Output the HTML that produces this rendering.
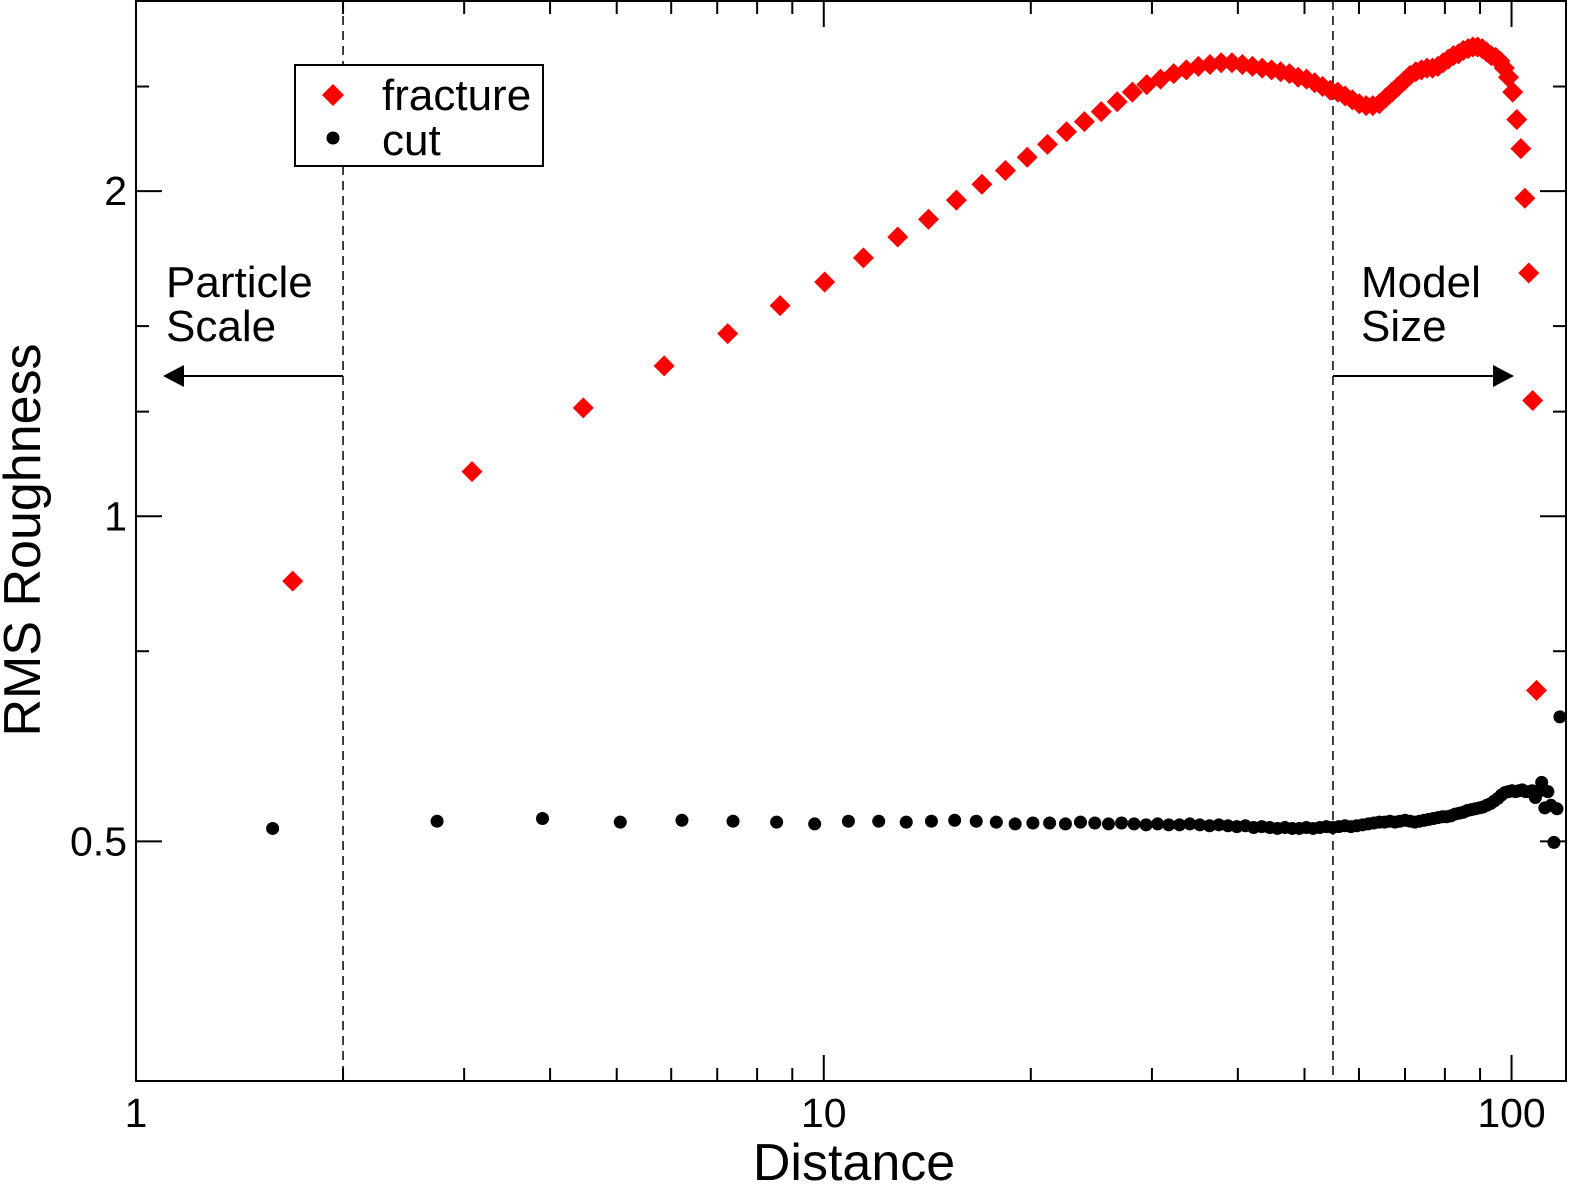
<!DOCTYPE html>
<html><head><meta charset="utf-8"><style>
html,body{margin:0;padding:0;background:#fff;overflow:hidden;width:1572px;height:1185px;}
svg{display:block;}
svg text{font-family:"Liberation Sans",sans-serif;fill:#000;}
</style></head><body>
<div style="position:relative;width:1572px;height:1185px;">
<svg id="chart" width="1572" height="1185" viewBox="0 0 1572 1185" xmlns="http://www.w3.org/2000/svg" style="position:absolute;left:0;top:0">
<rect x="0" y="0" width="1572" height="1185" fill="#fff"/>
<g id="marks"></g>
<g id="axes"></g>
</svg>
<svg style="position:absolute;left:0;top:0" width="1572" height="1185" xmlns="http://www.w3.org/2000/svg">
<text x="854" y="1180" font-size="52" text-anchor="middle">Distance</text>
<text transform="translate(40,540) rotate(-90)" font-size="52" text-anchor="middle">RMS Roughness</text>
<g>
<rect x="295" y="65" width="248" height="101" fill="#fff" stroke="#000" stroke-width="2"/>
<polygon points="333,84 344,95 333,106 322,95" fill="#ff0000"/>
<text x="382" y="110" font-size="44">fracture</text>
<circle cx="333" cy="138" r="6.5" fill="#000"/>
<text x="382" y="155" font-size="44">cut</text>
</g>
<g>
<text x="166" y="297" font-size="44">Particle</text>
<text x="166" y="341" font-size="44">Scale</text>
<line x1="343" y1="376" x2="180" y2="376" stroke="#000" stroke-width="2"/>
<polygon points="163,376 184,365 184,387" fill="#000"/>
</g>
<g>
<text x="1361" y="297" font-size="44">Model</text>
<text x="1361" y="341" font-size="44">Size</text>
<line x1="1333" y1="376" x2="1495" y2="376" stroke="#000" stroke-width="2"/>
<polygon points="1514,376 1493,365 1493,387" fill="#000"/>
</g>
</svg>
</div>
<script>
const fractureX=[1.69,3.08,4.47,5.86,7.25,8.64,10.03,11.42,12.81,14.20,15.59,16.98,18.37,19.76,21.15,22.54,23.93,25.32,26.71,28.10,29.49,30.88,32.27,33.66,35.05,36.44,37.83,39.22,40.61,42.00,43.39,44.78,46.17,47.56,48.95,50.34,51.73,53.12,54.51,55.90,57.29,58.68,60.07,61.46,62.85,64.24,65.63,67.02,68.41,69.80,71.19,72.58,73.97,75.36,76.75,78.14,79.53,80.92,82.31,83.70,85.09,86.48,87.87,89.26,90.65,92.04,93.43,94.82,96.21,97.60,98.99,100.38,101.77,103.16,104.55,105.94,107.33,108.72];
const fractureY=[0.871,1.10,1.26,1.378,1.476,1.567,1.648,1.735,1.814,1.884,1.962,2.03,2.09,2.15,2.21,2.27,2.32,2.37,2.42,2.47,2.51,2.54,2.57,2.59,2.61,2.62,2.63,2.63,2.62,2.61,2.60,2.59,2.58,2.57,2.55,2.54,2.52,2.50,2.48,2.47,2.45,2.43,2.41,2.40,2.40,2.41,2.44,2.47,2.50,2.53,2.56,2.58,2.59,2.60,2.60,2.61,2.63,2.65,2.67,2.68,2.70,2.71,2.72,2.72,2.71,2.69,2.67,2.66,2.64,2.60,2.55,2.47,2.33,2.19,1.97,1.68,1.28,0.69];
const cutX=[1.58,2.74,3.90,5.06,6.22,7.38,8.54,9.70,10.86,12.02,13.18,14.34,15.50,16.66,17.82,18.98,20.14,21.30,22.46,23.62,24.78,25.94,27.10,28.26,29.42,30.58,31.74,32.90,34.06,35.22,36.38,37.54,38.70,39.86,41.02,42.18,43.34,44.50,45.66,46.82,47.98,49.14,50.30,51.46,52.62,53.78,54.94,56.10,57.26,58.42,59.58,60.74,61.90,63.06,64.22,65.38,66.54,67.70,68.86,70.02,71.18,72.34,73.50,74.66,75.82,76.98,78.14,79.30,80.46,81.62,82.78,83.94,85.10,86.26,87.42,88.58,89.74,90.90,92.06,93.22,94.38,95.54,96.70,97.86,99.02,100.18,101.34,102.50,103.66,104.82,105.98,107.14,108.30,109.46,110.62,111.78,112.94,114.10,115.26,116.42,117.58];
const cutY=[0.514,0.522,0.525,0.521,0.523,0.522,0.521,0.519,0.522,0.522,0.521,0.522,0.523,0.522,0.521,0.519,0.520,0.520,0.519,0.521,0.520,0.519,0.520,0.519,0.518,0.519,0.518,0.518,0.519,0.518,0.517,0.518,0.517,0.516,0.517,0.515,0.516,0.515,0.514,0.515,0.514,0.514,0.515,0.514,0.515,0.516,0.515,0.516,0.517,0.516,0.517,0.518,0.519,0.520,0.521,0.521,0.522,0.521,0.522,0.523,0.522,0.521,0.522,0.523,0.524,0.525,0.526,0.527,0.527,0.528,0.530,0.531,0.532,0.534,0.535,0.536,0.537,0.538,0.540,0.542,0.545,0.548,0.552,0.555,0.556,0.557,0.556,0.557,0.558,0.556,0.556,0.557,0.549,0.556,0.567,0.537,0.556,0.540,0.499,0.536,0.652];
const xTickLabels=["1","10","100"];
const xTickValues=[1,10,100];
const yTickValues=[0.5,1,2];
const yTickLabels=["0.5","1","2"];
const yMinorValues=[0.75,1.25,1.5,2.5];
const refLines=[2,55];

const L=136,R=1566,T=1,B=1081;
const X0=1,X1=120,Y0=0.3,Y1=3;
function sx(v){return L+(Math.log10(v)-Math.log10(X0))/(Math.log10(X1)-Math.log10(X0))*(R-L);}
function sy(v){return B-(Math.log10(v)-Math.log10(Y0))/(Math.log10(Y1)-Math.log10(Y0))*(B-T);}
const NS="http://www.w3.org/2000/svg";
const marks=document.getElementById('marks'),axes=document.getElementById('axes');
function mk(tag,attrs,parent,text){const e=document.createElementNS(NS,tag);for(const k in attrs)e.setAttribute(k,attrs[k]);if(text!==undefined)e.textContent=text;parent.appendChild(e);return e;}

refLines.forEach((v,i)=>{
  const l=mk('line',{x1:sx(v),x2:sx(v),y1:T,y2:B,stroke:'#000','stroke-width':1.5,'stroke-dasharray':'9,6'},marks);
  
  
});
fractureX.forEach((x,i)=>{
  const cx=sx(x),cy=sy(fractureY[i]),d=10.5;
  const p=mk('polygon',{points:`${cx},${cy-d} ${cx+d},${cy} ${cx},${cy+d} ${cx-d},${cy}`,fill:'#ff0000'},marks);
  
  
});
cutX.forEach((x,i)=>{
  const c=mk('circle',{cx:sx(x),cy:sy(cutY[i]),r:6.5,fill:'#000'},marks);
  
  
});
const fr=mk('rect',{x:L,y:T,width:R-L,height:B-T,fill:'none',stroke:'#000','stroke-width':2},axes);


for(let d=1;d<=100;d*=10){for(let m=1;m<=9;m++){const v=d*m;if(v>X1||v<X0)continue;const x=sx(v);const len=(m===1)?26:13;
  mk('line',{x1:x,x2:x,y1:B,y2:B-len,stroke:'#000','stroke-width':2},axes);
  mk('line',{x1:x,x2:x,y1:T,y2:T+len,stroke:'#000','stroke-width':2},axes);}}
xTickValues.forEach((v,i)=>{const t=mk('text',{x:sx(v),y:1127,'font-size':41,'text-anchor':'middle'},axes,xTickLabels[i]);
  
  });
yTickValues.forEach((v,i)=>{const y=sy(v);
  mk('line',{x1:L,x2:L+26,y1:y,y2:y,stroke:'#000','stroke-width':2},axes);
  mk('line',{x1:R,x2:R-26,y1:y,y2:y,stroke:'#000','stroke-width':2},axes);
  const t=mk('text',{x:127,y:y+14,'font-size':41,'text-anchor':'end'},axes,yTickLabels[i]);
  
  });
yMinorValues.forEach(v=>{const y=sy(v);
  mk('line',{x1:L,x2:L+13,y1:y,y2:y,stroke:'#000','stroke-width':2},axes);
  mk('line',{x1:R,x2:R-13,y1:y,y2:y,stroke:'#000','stroke-width':2},axes);});
</script>
</body></html>
